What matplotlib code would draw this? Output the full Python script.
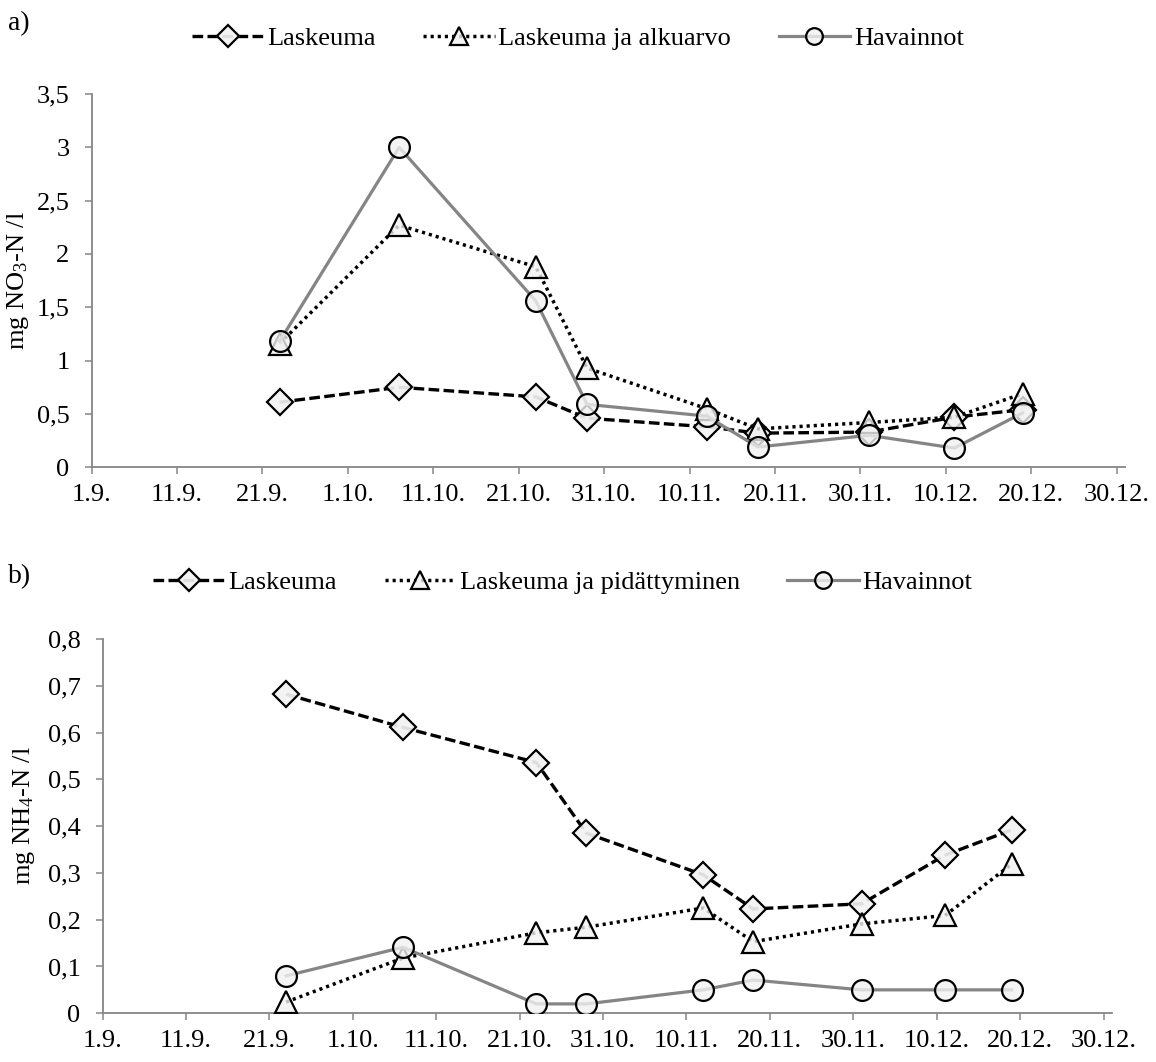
import datetime as dt
import matplotlib
matplotlib.use('Agg')
import matplotlib.pyplot as plt

plt.rcParams['font.family'] = 'Liberation Serif'
plt.rcParams['mathtext.fontset'] = 'custom'
plt.rcParams['mathtext.rm'] = 'Liberation Serif'
plt.rcParams['mathtext.it'] = 'Liberation Serif:italic'

# Näytteenottopäivät (sama molemmissa kuvissa)
paivat = ['23.9.', '7.10.', '23.10.', '29.10.', '12.11.', '18.11.', '1.12.', '11.12.', '19.12.']

# a) nitraatti
no3_laskeuma = [0.61, 0.75, 0.66, 0.46, 0.38, 0.32, 0.33, 0.47, 0.54]
no3_alkuarvo = [1.16, 2.27, 1.88, 0.93, 0.55, 0.36, 0.42, 0.47, 0.69]
no3_havainnot = [1.18, 3.0, 1.56, 0.59, 0.48, 0.19, 0.30, 0.18, 0.51]

# b) ammonium
nh4_laskeuma = [0.682, 0.611, 0.536, 0.385, 0.296, 0.223, 0.234, 0.338, 0.392]
nh4_pidattyminen = [0.024, 0.118, 0.172, 0.184, 0.225, 0.153, 0.191, 0.209, 0.319]
nh4_havainnot = [0.08, 0.141, 0.02, 0.02, 0.05, 0.071, 0.05, 0.05, 0.05]

x_tick_labels = ['1.9.', '11.9.', '21.9.', '1.10.', '11.10.', '21.10.', '31.10.',
                 '10.11.', '20.11.', '30.11.', '10.12.', '20.12.', '30.12.']
no3_ticks = [0, 0.5, 1, 1.5, 2, 2.5, 3, 3.5]
no3_tick_labels = ['0', '0,5', '1', '1,5', '2', '2,5', '3', '3,5']
nh4_ticks = [0, 0.1, 0.2, 0.3, 0.4, 0.5, 0.6, 0.7, 0.8]
nh4_tick_labels = ['0', '0,1', '0,2', '0,3', '0,4', '0,5', '0,6', '0,7', '0,8']


def pvm(s, vuosi=2010):
    d, m = s.strip('.').split('.')
    return dt.datetime(vuosi, int(m), int(d))


x = [pvm(p) for p in paivat]
x_ticks = [pvm(p) for p in x_tick_labels]
x_min = x_ticks[0]
x_max = x_ticks[-1] + dt.timedelta(days=1)

FS = 19
harmaa = '#868686'
tayte = (0.95, 0.95, 0.95, 0.8)


def piirra(ax, lask, malli, hav, yticks, ylabels):
    ax.plot(x, lask, color='black', lw=2.4, dashes=[3.2, 1.3],
            marker='D', ms=13.5, mfc=(0.95, 0.95, 0.95, 0.92), mec='black', mew=1.6,
            zorder=3)
    ax.plot(x, malli, color='black', lw=2.5, dashes=[0.9, 1.15],
            marker='^', ms=15.5, mfc=tayte, mec='black', mew=1.6, zorder=4)
    ax.plot(x, hav, color='#858585', lw=2.3,
            marker='o', ms=15, mfc=tayte, mec='black', mew=1.6, zorder=5)

    ax.set_xlim(x_min, x_max)
    ax.set_ylim(yticks[0], yticks[-1])
    ax.set_xticks(x_ticks)
    ax.set_xticklabels(x_tick_labels)
    ax.set_yticks(yticks)
    ax.set_yticklabels(ylabels)
    for s in ['top', 'right']:
        ax.spines[s].set_visible(False)
    for s in ['left', 'bottom']:
        ax.spines[s].set_color(harmaa)
        ax.spines[s].set_linewidth(1.3)
    ax.tick_params(axis='x', direction='out', length=5, width=1.1, color=harmaa,
                   labelsize=FS, pad=7)
    ax.tick_params(axis='y', direction='out', length=5, width=1.1, color=harmaa,
                   labelsize=FS, pad=11)
    return ax


fig = plt.figure(figsize=(11.56, 10.62), dpi=100)
ax1 = fig.add_axes([0.0793, 0.56, 0.894, 0.3515])
ax2 = fig.add_axes([0.0888, 0.0459, 0.873, 0.3524])

piirra(ax1, no3_laskeuma, no3_alkuarvo, no3_havainnot, no3_ticks, no3_tick_labels)
piirra(ax2, nh4_laskeuma, nh4_pidattyminen, nh4_havainnot, nh4_ticks, nh4_tick_labels)

fig.text(18 / 1156, 1 - 280 / 1062, 'mg NO$_3$-N /l', rotation=90,
         ha='center', va='center', fontsize=FS)
fig.text(24 / 1156, 1 - 815 / 1062, 'mg NH$_4$-N /l', rotation=90,
         ha='center', va='center', fontsize=FS)

fig.text(8 / 1156, 1 - 24 / 1062, 'a)', ha='left', va='center', fontsize=FS + 1)
fig.text(8 / 1156, 1 - 577 / 1062, 'b)', ha='left', va='center', fontsize=FS + 1)

leg_kw = dict(loc='center', ncol=3, frameon=False, fontsize=FS, handlelength=2.7,
              handletextpad=0.15, columnspacing=1.8, markerscale=0.8, numpoints=1)
h1 = ax1.get_lines()
fig.legend(h1, ['Laskeuma', 'Laskeuma ja alkuarvo', 'Havainnot'],
           bbox_to_anchor=(578 / 1156, 1 - 38 / 1062), **leg_kw)
h2 = ax2.get_lines()
fig.legend(h2, ['Laskeuma', 'Laskeuma ja pidättyminen', 'Havainnot'],
           bbox_to_anchor=(563 / 1156, 1 - 582 / 1062), **leg_kw)

fig.savefig('out.png', dpi=100)
